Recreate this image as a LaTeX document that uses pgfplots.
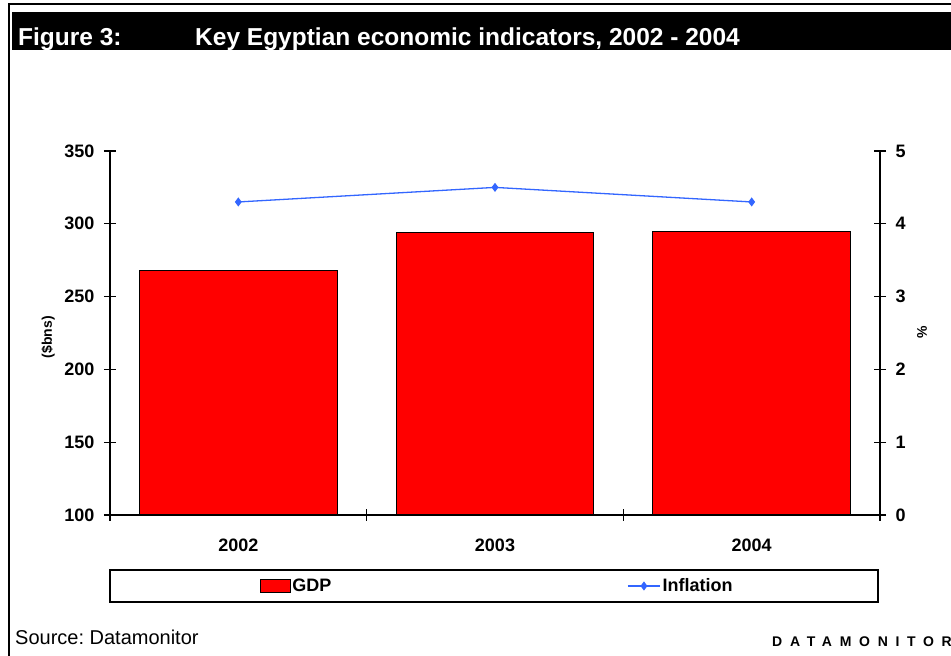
\documentclass[border=0pt]{standalone}
\usepackage{fontspec}
\setmainfont{Liberation Sans}
\newfontfamily\dmfont[LetterSpace=55]{Liberation Sans}
\usepackage{pgfplots}
\pgfplotsset{compat=1.18}
\definecolor{infl}{RGB}{51,102,255}
\pgfplotsset{
  mylinelegend/.style={legend image code/.code={\draw[mark repeat=2,mark phase=2,##1] plot coordinates {(0pt,0pt) (16pt,0pt) (32pt,0pt)};}},
  mybarlegend/.style={legend image code/.code={\draw[fill=red,draw=black,line width=0.8pt] (0pt,-6.5pt) rectangle (30pt,6.5pt);}},
}
\frenchspacing
\begin{document}
\begin{tikzpicture}[x=1pt,y=1pt]
\useasboundingbox (0,0) rectangle (951,656);
\fill[white] (0,0) rectangle (951,656);
\draw[line width=2pt] (9,-5) -- (9,652) -- (960,652);
\fill[black] (12,606) rectangle (960,644);
\node[anchor=base west, inner sep=0, text=white, font=\bfseries\fontsize{24.5}{24.5}\selectfont] at (18,610) {Figure 3:};
\node[anchor=base west, inner sep=0, text=white, font=\bfseries\fontsize{24.5}{24.5}\selectfont] at (195,610) {Key Egyptian economic indicators, 2002 - 2004};
\node[anchor=base west, inner sep=0, font=\fontsize{20}{20}\selectfont] at (15,11) {Source: Datamonitor};
\node[anchor=base west, inner sep=0, font=\dmfont\bfseries\fontsize{14}{14}\selectfont] at (772,9) {DATAMONITOR};

\begin{axis}[
  at={(110pt,141pt)}, anchor=south west,
  scale only axis, width=770pt, height=364pt,
  ybar, bar width=0.77,
  xmin=-0.5, xmax=2.5, ymin=100, ymax=350,
  axis x line*=bottom, axis y line*=left,
  axis line style={-, line width=1.2pt},
  xtick={0,1,2}, xticklabels={2002,2003,2004},
  minor xtick={-0.5,0.5,1.5,2.5},
  major x tick style={draw=none},
  ytick={100,150,...,350},
  tick align=center, major tick length=12pt, minor tick length=12pt,
  tick style={black, line width=1.2pt},
  ticklabel style={font=\bfseries\fontsize{18}{18}\selectfont},
  yticklabel style={xshift=-6pt},
  xticklabel style={yshift=-14pt},
  /pgf/number format/assume math mode=true,
  ylabel={(\$bns)},
  ylabel style={font=\bfseries\fontsize{14}{14}\selectfont, at={(axis description cs:-0.0805,0.489)}, anchor=center},
]
\addplot[fill=red, draw=black, line width=1pt] coordinates {(0,268) (1,294) (2,294.5)};
\end{axis}

\begin{axis}[
  at={(110pt,141pt)}, anchor=south west,
  scale only axis, width=770pt, height=364pt,
  xmin=-0.5, xmax=2.5, ymin=0, ymax=5,
  axis y line*=right, axis x line=none,
  axis line style={-, line width=1.2pt},
  ytick={0,1,2,3,4,5},
  tick align=center, major tick length=12pt,
  tick style={black, line width=1.2pt},
  ticklabel style={font=\bfseries\fontsize{18}{18}\selectfont},
  yticklabel style={xshift=6pt},
  /pgf/number format/assume math mode=true,
  ylabel={\%},
  ylabel style={font=\bfseries\fontsize{14}{14}\selectfont, at={(axis description cs:1.0545,0.503)}, anchor=center},
  legend columns=2,
  legend style={at={(axis description cs:0.19,-0.195)}, anchor=west, draw=none, fill=none,
    font=\bfseries\fontsize{18}{18}\selectfont,
    /tikz/every even column/.append style={column sep=294pt}},
]
\addlegendimage{mybarlegend}
\addlegendentry{GDP}
\addplot[infl, line width=1.3pt, mark=diamond*, mark size=3.5pt, mylinelegend]
  coordinates {(0,4.3) (1,4.5) (2,4.3)};
\addlegendentry{Inflation}
\end{axis}
\draw[line width=1.2pt] (110,54) rectangle (878,86);
\end{tikzpicture}
\end{document}
